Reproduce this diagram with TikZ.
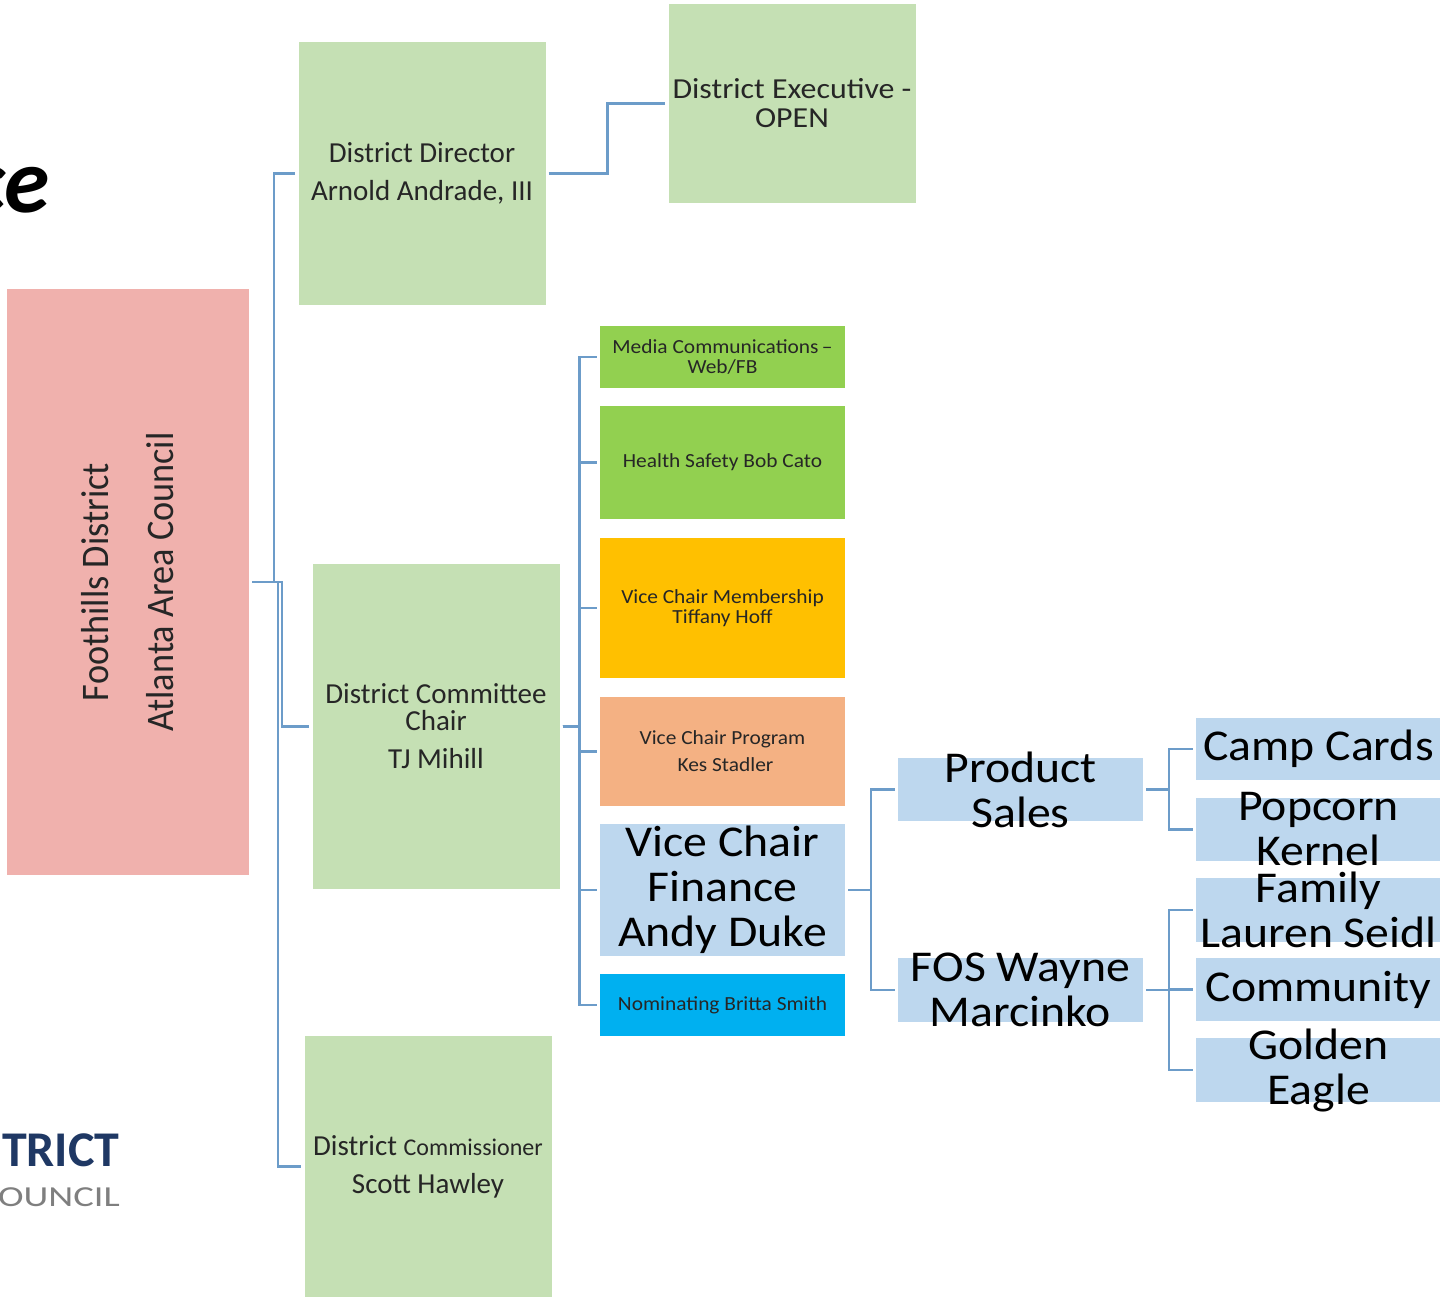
\documentclass[tikz,border=0pt]{standalone}
\usepackage{fontspec}
\setmainfont{Carlito}
\newfontfamily\narrowfont[FakeStretch=0.93]{Carlito}
\newfontfamily\smallfont[FakeStretch=1.07]{Carlito}
\newfontfamily\execfont[FakeStretch=1.1]{Carlito}
\newfontfamily\bigfont[FakeStretch=1.085]{Carlito}
\newfontfamily\logofont[FakeStretch=1.33]{Carlito}
\definecolor{linkblue}{HTML}{6C9CC9}
\definecolor{boxgreen}{HTML}{C5E0B4}
\definecolor{boxpink}{HTML}{F0B1AD}
\definecolor{boxlime}{HTML}{92D050}
\definecolor{boxgold}{HTML}{FFC000}
\definecolor{boxpeach}{HTML}{F4B183}
\definecolor{boxblue}{HTML}{BDD7EE}
\definecolor{boxcyan}{HTML}{00B0F0}
\definecolor{logoblue}{HTML}{1F3864}
\definecolor{logogrey}{HTML}{7F7F7F}
\begin{document}
\begin{tikzpicture}[x=1pt,y=-1pt]

		\useasboundingbox (0,0) rectangle (1440,1298);

		\tikzset{
			link/.style = {draw=linkblue, line width=2.5pt, shorten <=3pt, shorten >=3pt},
			plainbox/.style = {inner sep=0pt, align=center, text=black!85},
			greenbox/.style = {plainbox, fill=boxgreen, minimum width=247pt, font=\fontsize{29}{27}\selectfont},
			smallbox/.style = {plainbox, minimum width=245pt, font=\smallfont\fontsize{20}{20}\selectfont},
			bigbox/.style = {plainbox, inner ysep=-15pt, fill=boxblue, minimum width=245pt, text=black, font=\bigfont\fontsize{44}{45}\selectfont}
		}

		%title and logo
		\node (title) [anchor=base east, inner sep=0pt, font=\fontsize{92}{92}\bfseries\itshape\selectfont] at (50,212) {ce};
		\node (logotop) [anchor=base east, inner sep=0pt, text=logoblue, font=\fontsize{50}{50}\bfseries\selectfont] at (120,1166) {TRICT};
		\node (logobottom) [anchor=base east, inner sep=0pt, text=logogrey, font=\logofont\fontsize{29}{29}\selectfont] at (120,1206) {OUNCIL};

		%root
		\node (root) [plainbox, rotate=90, fill=boxpink, minimum width=586pt, minimum height=242pt, font=\narrowfont\fontsize{39}{65}\selectfont] at (128,582) {Foothills District\\Atlanta Area Council};

		%second level
		\node (director) [greenbox, minimum height=263pt] at (422,173.5) {District Director\\[11pt]Arnold Andrade, III};
		\node (executive) [greenbox, minimum height=199pt, font=\execfont\fontsize{29}{29}\selectfont] at (792,103.5) {District Executive -\\OPEN};
		\node (committee) [greenbox, minimum height=325pt] at (436,726.5) {District Committee\\Chair\\[11pt]TJ Mihill};
		\node (commissioner) [greenbox, minimum height=261pt] at (428,1166.5) {District {\fontsize{24}{27}\selectfont Commissioner}\\[11pt]Scott Hawley};

		%committee members
		\node (media) [smallbox, fill=boxlime, minimum height=62pt] at (722.5,357) {Media Communications\,–\\Web/FB};
		\node (health) [smallbox, fill=boxlime, minimum height=113pt] at (722.5,462.5) {Health Safety Bob Cato};
		\node (membership) [smallbox, fill=boxgold, minimum height=140pt] at (722.5,608) {Vice Chair Membership\\Tiffany Hoff};
		\node (program) [smallbox, fill=boxpeach, minimum height=109pt] at (722.5,751.5) {Vice Chair Program\\[7pt]\hspace*{6pt}Kes Stadler};
		\node (finance) [bigbox, minimum height=132pt] at (722.5,890) {Vice Chair\\Finance\\Andy Duke};
		\node (nominating) [smallbox, fill=boxcyan, minimum height=62pt] at (722.5,1005) {Nominating Britta Smith};

		%finance
		\node (product) [bigbox, minimum height=63pt] at (1020.5,789.5) {Product\\Sales};
		\node (fos) [bigbox, minimum height=64pt] at (1020.5,990) {FOS Wayne\\Marcinko};

		\node (camp) [bigbox, minimum height=62pt] at (1318.5,749) {Camp Cards};
		\node (popcorn) [bigbox, minimum height=63pt] at (1318.5,829.5) {Popcorn\\Kernel};
		\node (family) [bigbox, minimum height=64pt] at (1318.5,910) {Family\\Lauren Seidl};
		\node (community) [bigbox, minimum height=63pt] at (1318.5,989.5) {Community};
		\node (golden) [bigbox, minimum height=64pt] at (1318.5,1070) {Golden\\Eagle};

		%links
		\draw[link] (root.south) -- ++(25,0) |- (director.west);
		\draw[link] (root.south) -- ++(33,0) |- (committee.west);
		\draw[link] (root.south) -- ++(29,0) |- (commissioner.west);
		\draw[link] (director.east) -- ++(62,0) |- (executive.west);

		\foreach \member in {media,health,membership,program,finance,nominating}
			\draw[link] (committee.east) -- ++(20,0) |- (\member.west);
		\foreach \member in {product,fos}
			\draw[link] (finance.east) -- ++(26,0) |- (\member.west);
		\foreach \member in {camp,popcorn}
			\draw[link] (product.east) -- ++(26,0) |- (\member.west);
		\foreach \member in {family,community,golden}
			\draw[link] (fos.east) -- ++(26,0) |- (\member.west);
	\end{tikzpicture}
\end{document}
